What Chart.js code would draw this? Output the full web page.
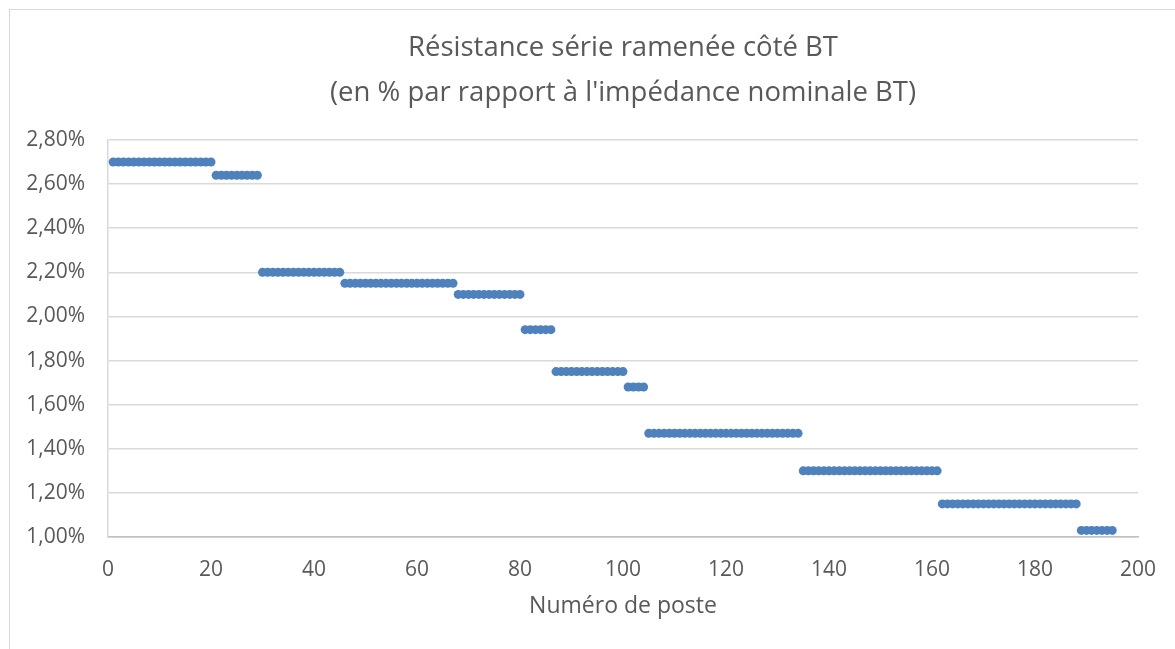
<!DOCTYPE html>
<html>
<head>
<meta charset="utf-8">
<script src="https://cdn.jsdelivr.net/npm/chart.js@4.4.1/dist/chart.umd.min.js"></script>
<style>
  html, body { margin: 0; padding: 0; background: #fff; }
  #wrap { position: relative; width: 1175px; height: 649px; overflow: hidden; }
  #frame { position: absolute; left: 9px; top: 9px; width: 1200px; height: 700px; border: 1px solid #d9d9d9; box-sizing: border-box; }
  #myChart { position: absolute; left: 0; top: 0; }
</style>
</head>
<body>
<div id="wrap">
  <div id="frame"></div>
  <canvas id="myChart" width="1175" height="649"></canvas>
</div>
<script>
// runs of "Numéro de poste" with the same value (first, last, value in %)
var runStart = [1, 21, 30, 46, 68, 81, 87, 101, 105, 135, 162, 189];
var runEnd   = [20, 29, 45, 67, 80, 86, 100, 104, 134, 161, 188, 195];
var runValue = [2.70, 2.64, 2.20, 2.15, 2.10, 1.94, 1.75, 1.68, 1.47, 1.30, 1.15, 1.03];

var xTicks = [0, 20, 40, 60, 80, 100, 120, 140, 160, 180, 200];
var yTicks = [1.00, 1.20, 1.40, 1.60, 1.80, 2.00, 2.20, 2.40, 2.60, 2.80];

var points = [];
for (var i = 0; i < runStart.length; i++) {
    for (var n = runStart[i]; n <= runEnd[i]; n++) {
        points.push({ x: n, y: runValue[i] });
    }
}

var txt = "#595959";
var font = "'Open Sans', 'DejaVu Sans', sans-serif";

new Chart("myChart", {
    type: "scatter",
    data: {
        datasets: [
            {
                data: points,
                backgroundColor: "#4f81bd",
                borderColor: "#4f81bd",
                borderWidth: 0,
                pointRadius: 4.5,
                pointHoverRadius: 4.5,
            },
        ],
    },
    options: {
        responsive: false,
        animation: false,
        layout: { padding: { left: 8, right: 37, top: 0, bottom: 25 } },
        plugins: {
            legend: { display: false },
            tooltip: { enabled: false },
            title: {
                display: true,
                fullSize: false,
                text: ["Résistance série ramenée côté BT", "(en % par rapport à l'impédance nominale BT)"],
                color: txt,
                font: { family: font, size: 27.5, weight: "normal", lineHeight: 1.636 },
                padding: { top: 26, bottom: 24 },
            },
        },
        scales: {
            x: {
                type: "linear",
                min: 0,
                max: 200,
                afterBuildTicks: function (s) { s.ticks = xTicks.map(function (v) { return { value: v }; }); },
                grid: { display: false },
                border: { display: true, color: "#bfbfbf", width: 1.5 },
                ticks: { color: txt, font: { family: font, size: 21 }, padding: 12 },
                title: {
                    display: true,
                    text: "Numéro de poste",
                    color: txt,
                    font: { family: font, size: 23 },
                    padding: { top: 8, bottom: 4 },
                },
                afterFit: function (s) { s.height = 87; },
            },
            y: {
                min: 1.0,
                max: 2.8,
                afterBuildTicks: function (s) { s.ticks = yTicks.map(function (v) { return { value: v }; }); },
                grid: { color: "#d9d9d9", lineWidth: 1.5, drawTicks: false },
                border: { display: true, color: "#d9d9d9", width: 1.5 },
                ticks: {
                    color: txt,
                    font: { family: font, size: 21 },
                    padding: 23,
                    callback: function (v) { return v.toFixed(2).replace(".", ",") + "%"; },
                },
                afterFit: function (s) { s.width = 100; },
            },
        },
    },
});
</script>
</body>
</html>
